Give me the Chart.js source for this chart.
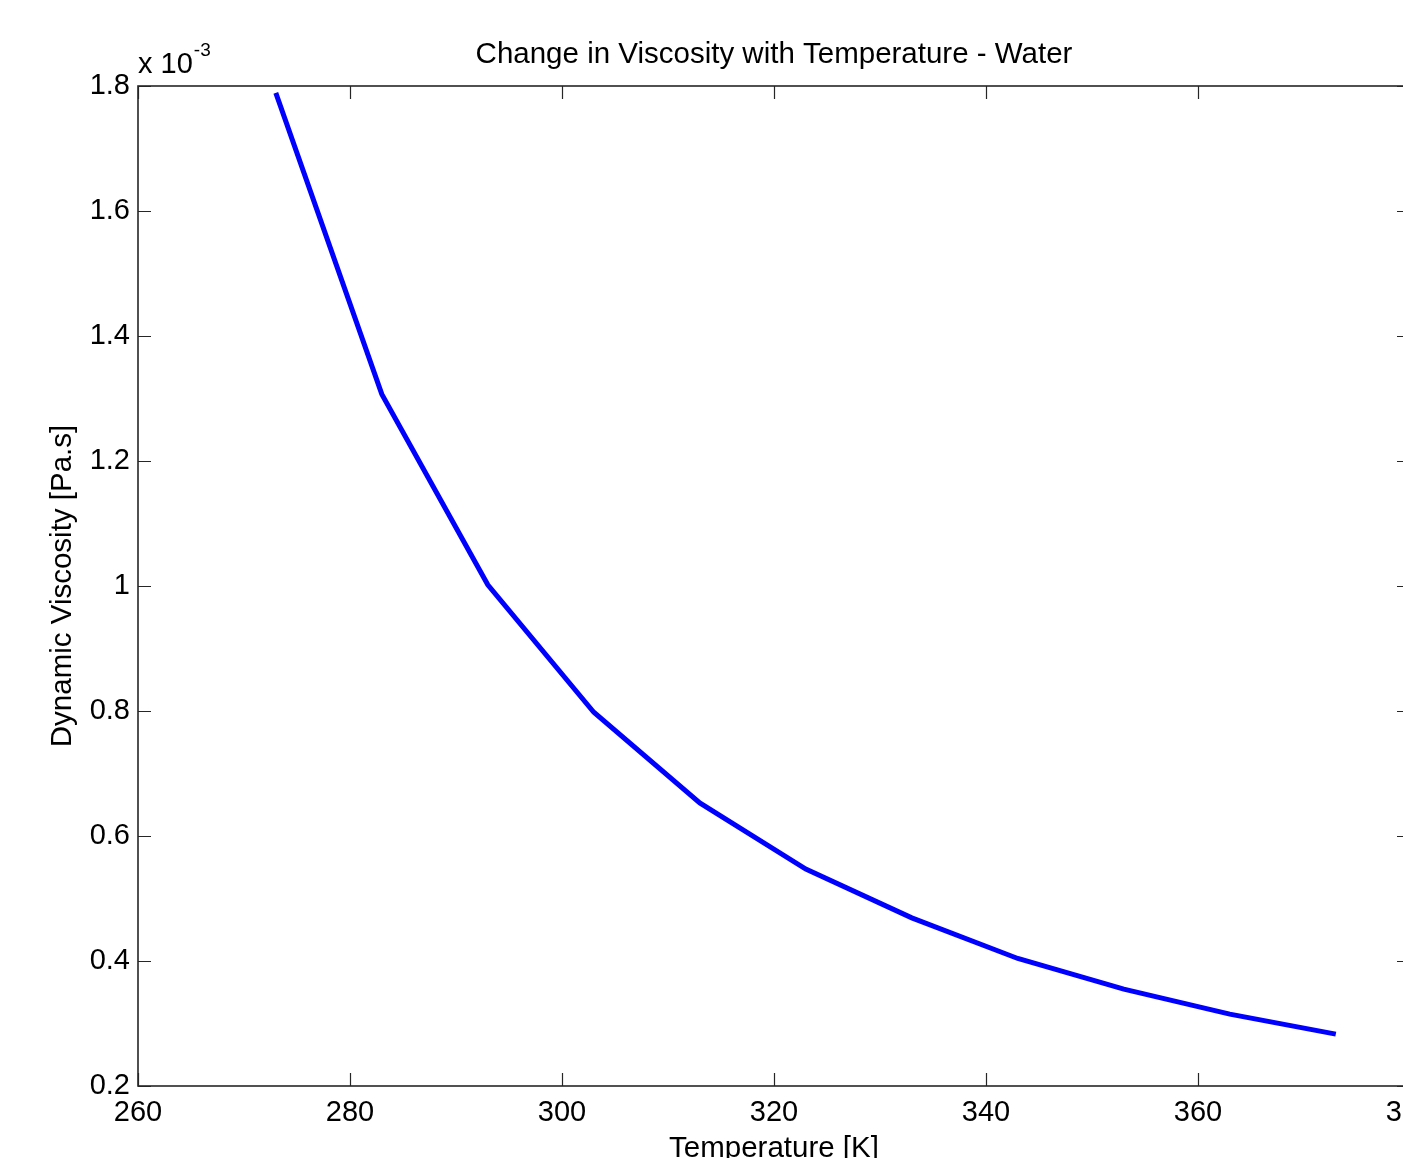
<!DOCTYPE html>
<html>
<head>
<meta charset="utf-8">
<title>Change in Viscosity with Temperature - Water</title>
<script src="https://cdn.jsdelivr.net/npm/chart.js@4/dist/chart.umd.min.js"></script>
<style>
    html, body { margin: 0; padding: 0; background: #fff; overflow: hidden; }
    #wrap { width: 1500px; height: 1180px; }
</style>
</head>
<body>
<div id="wrap"><canvas id="viscChart" width="1500" height="1180"></canvas></div>
<script>
// temperatures in K, viscosity in units of 10^-3 Pa.s (as on the axis)
const temperatures = [273, 283, 293, 303, 313, 323, 333, 343, 353, 363, 373];
const viscosity = [1.789, 1.307, 1.002, 0.798, 0.653, 0.547, 0.469, 0.404, 0.355, 0.315, 0.283];
const xTicks = [260, 280, 300, 320, 340, 360, 380];
const yTicks = [0.2, 0.4, 0.6, 0.8, 1.0, 1.2, 1.4, 1.6, 1.8];

const FONT = '"Liberation Sans", Arial, sans-serif';
const AXIS_COLOR = '#262626';
const TICK_LEN = 13;

// matlab style box with inward ticks on all four sides
const boxTicks = {
    id: 'boxTicks',
    afterDraw(chart) {
        const { ctx, chartArea: a, scales } = chart;
        ctx.save();
        ctx.strokeStyle = AXIS_COLOR;
        ctx.lineWidth = 1.2;
        ctx.beginPath();
        xTicks.forEach(v => {
            const px = Math.round(scales.x.getPixelForValue(v)) + 0.5;
            ctx.moveTo(px, a.bottom); ctx.lineTo(px, a.bottom - TICK_LEN);
            ctx.moveTo(px, a.top); ctx.lineTo(px, a.top + TICK_LEN);
        });
        yTicks.forEach(v => {
            const py = Math.round(scales.y.getPixelForValue(v)) + 0.5;
            ctx.moveTo(a.left, py); ctx.lineTo(a.left + TICK_LEN, py);
            ctx.moveTo(a.right, py); ctx.lineTo(a.right - TICK_LEN, py);
        });
        ctx.stroke();

        ctx.lineWidth = 1.6;
        ctx.strokeRect(a.left, a.top, a.right - a.left, a.bottom - a.top);

        // exponent label above the y axis
        ctx.fillStyle = '#000';
        ctx.textBaseline = 'alphabetic';
        ctx.textAlign = 'left';
        ctx.font = '29px ' + FONT;
        const base = 'x 10';
        ctx.fillText(base, a.left, a.top - 13);
        const w = ctx.measureText(base).width;
        ctx.font = '19px ' + FONT;
        ctx.fillText('-3', a.left + w + 1, a.top - 30);
        ctx.restore();
    }
};

const ctx = document.getElementById('viscChart').getContext('2d');
new Chart(ctx, {
    type: 'line',
    data: {
        labels: temperatures,
        datasets: [{
            label: 'Water',
            data: temperatures.map((t, i) => ({ x: t, y: viscosity[i] })),
            borderColor: '#0000ff',
            borderWidth: 5,
            pointRadius: 0,
            tension: 0,
            fill: false
        }]
    },
    options: {
        responsive: false,
        animation: false,
        layout: { padding: { top: 0, left: 0, right: 90, bottom: 0 } },
        plugins: {
            legend: { display: false },
            tooltip: { enabled: false },
            title: {
                display: true,
                text: 'Change in Viscosity with Temperature - Water',
                fullSize: false,
                color: '#000',
                font: { family: FONT, size: 29.5, weight: 'normal', lineHeight: 1.2 },
                padding: { top: 37, bottom: 13.6 }
            }
        },
        scales: {
            x: {
                type: 'linear',
                min: 260,
                max: 380,
                afterFit: (scale) => { scale.height = 94; },
                afterBuildTicks: (scale) => { scale.ticks = xTicks.map(v => ({ value: v })); },
                grid: { display: false, drawTicks: false },
                border: { display: false },
                ticks: {
                    color: '#000',
                    padding: 10,
                    maxRotation: 0,
                    autoSkip: false,
                    font: { family: FONT, size: 29 }
                },
                title: {
                    display: true,
                    text: 'Temperature [K]',
                    color: '#000',
                    font: { family: FONT, size: 29.5 },
                    padding: { top: 0, bottom: 13 }
                }
            },
            y: {
                type: 'linear',
                min: 0.2,
                max: 1.8,
                afterFit: (scale) => { scale.width = 138; },
                afterBuildTicks: (scale) => { scale.ticks = yTicks.map(v => ({ value: v })); },
                grid: { display: false, drawTicks: false },
                border: { display: false },
                ticks: {
                    color: '#000',
                    padding: 8,
                    autoSkip: false,
                    font: { family: FONT, size: 29 },
                    callback: (v) => String(+v.toFixed(1))
                },
                title: {
                    display: true,
                    text: 'Dynamic Viscosity [Pa.s]',
                    color: '#000',
                    font: { family: FONT, size: 29.5 },
                    padding: { top: 45, bottom: 0 }
                }
            }
        }
    },
    plugins: [boxTicks]
});
</script>
</body>
</html>
